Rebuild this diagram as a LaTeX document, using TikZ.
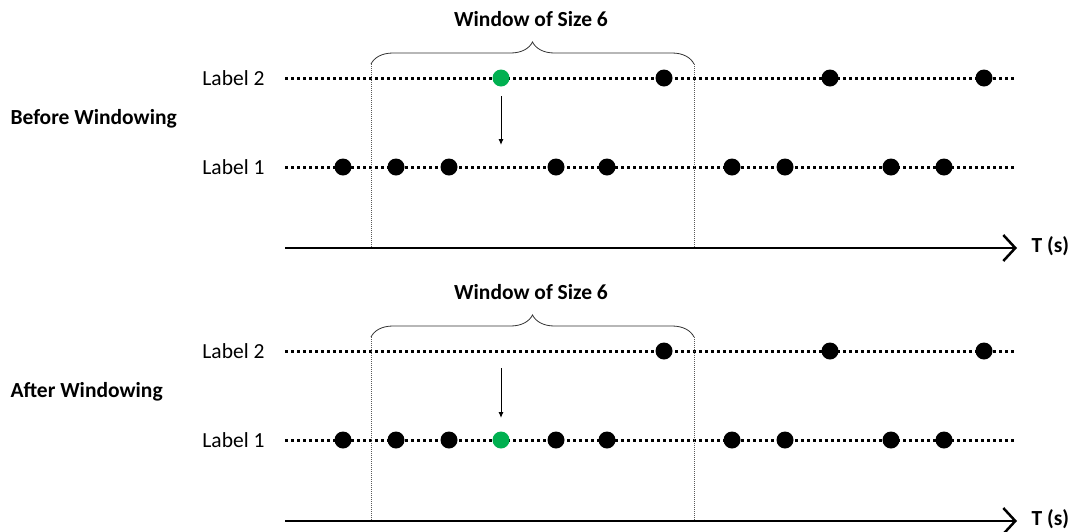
\documentclass[tikz,border=0pt]{standalone}
\usepackage{fontspec}
\setmainfont{Carlito}
\usetikzlibrary{arrows.meta,decorations.pathreplacing}
\begin{document}
\begin{tikzpicture}[x=1pt,y=-1pt,
  track/.style={line width=3pt,dash pattern=on 3pt off 3pt},
  dot/.style={circle,fill=black,minimum size=17pt,inner sep=0pt},
  lbl/.style={font=\fontsize{21.5}{25}\selectfont,anchor=east},
  ttl/.style={font=\bfseries\fontsize{21.5}{25}\selectfont},
  win/.style={gray!70!black,line width=0.8pt,dash pattern=on 1pt off 1pt},
  brc/.style={decorate,decoration={brace,amplitude=22pt},line width=0.8pt,black!80},
  axis/.style={line width=2.5pt,-{Straight Barb[length=12pt,width=26pt,line width=2.5pt]}},
  drop/.style={line width=1pt,-{Latex[length=6pt,width=5pt]}}]
\definecolor{greendot}{RGB}{0,176,80}
\useasboundingbox (0,0) rectangle (1069,531);
\foreach \off/\nm in {0/A,273/B}{
  % lines
  \coordinate (\nm l2s) at (285,78+\off);
  \coordinate (\nm l2e) at (1015,78+\off);
  \coordinate (\nm l1s) at (285,167+\off);
  \coordinate (\nm l1e) at (1015,167+\off);
  \draw[track] (\nm l2s) -- (\nm l2e);
  \draw[track] (\nm l1s) -- (\nm l1e);
  \node[lbl] (\nm lab2) at (268,78+\off) {Label 2};
  \node[lbl] (\nm lab1) at (268,167+\off) {Label 1};
  % window
  \coordinate (\nm wl) at (371,64+\off);
  \coordinate (\nm wr) at (694,64+\off);
  \coordinate (\nm wlb) at (371,248+\off);
  \coordinate (\nm wrb) at (694,248+\off);
  \draw[win] (\nm wl) -- (\nm wlb);
  \draw[win] (\nm wr) -- (\nm wrb);
  \draw[brc] (\nm wl) -- (\nm wr);
  \node[ttl] (\nm wt) at (531,19+\off) {Window of Size 6};
  % axis
  \coordinate (\nm ax0) at (285,248+\off);
  \coordinate (\nm ax1) at (1017,248+\off);
  \draw[axis] (\nm ax0) -- (\nm ax1);
  \node[ttl,anchor=west] (\nm T) at (1028,246+\off) {T (s)};
  % label 2 dots
  \foreach \x [count=\i] in {664,830,984} \node[dot] (\nm u\i) at (\x,78+\off) {};
  % label 1 dots
  \foreach \x [count=\i] in {343,396,449,556,607,732,785,891,944} \node[dot] (\nm d\i) at (\x,167+\off) {};
}
\node[ttl,anchor=west] (bw) at (7,119) {Before Windowing};
\node[ttl,anchor=west] (aw) at (7,392) {After Windowing};
% green points
\node[dot,fill=greendot] (g1) at (501,78) {};
\node[dot,fill=greendot] (g2) at (501,440) {};
\coordinate (a1s) at (501,96);
\coordinate (a1e) at (501,145);
\coordinate (a2s) at (501,368);
\coordinate (a2e) at (501,418);
\draw[drop] (a1s) -- (a1e);
\draw[drop] (a2s) -- (a2e);
\end{tikzpicture}
\end{document}
